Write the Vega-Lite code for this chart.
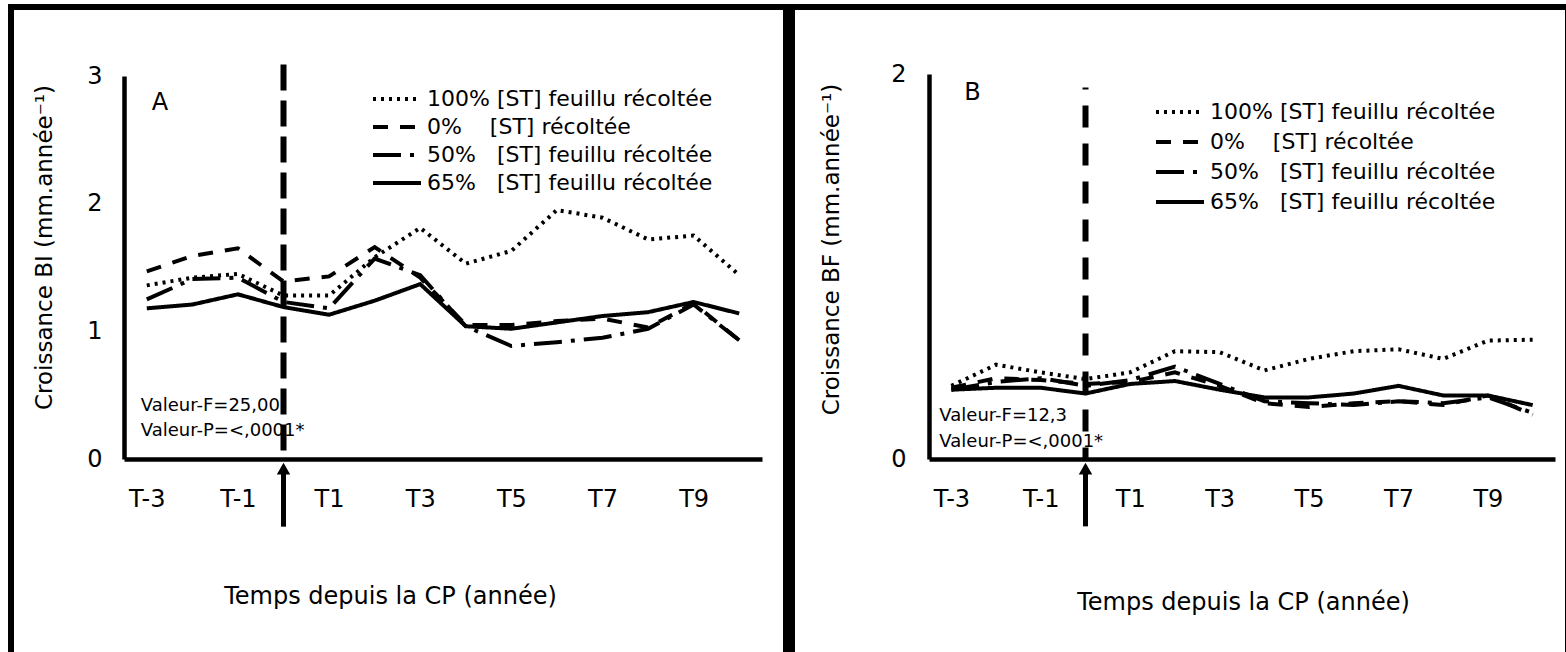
{
  "$schema": "https://vega.github.io/schema/vega-lite/v6.json",
  "padding": {"left": 8, "top": 4, "right": 0, "bottom": 0},
  "background": "white",
  "datasets": {
    "A": [
      {"t":"T-3","s":"100% [ST] feuillu récoltée","v":1.36},{"t":"T-2","s":"100% [ST] feuillu récoltée","v":1.42},{"t":"T-1","s":"100% [ST] feuillu récoltée","v":1.45},{"t":"T0","s":"100% [ST] feuillu récoltée","v":1.28},{"t":"T1","s":"100% [ST] feuillu récoltée","v":1.28},{"t":"T2","s":"100% [ST] feuillu récoltée","v":1.58},{"t":"T3","s":"100% [ST] feuillu récoltée","v":1.81},{"t":"T4","s":"100% [ST] feuillu récoltée","v":1.53},{"t":"T5","s":"100% [ST] feuillu récoltée","v":1.63},{"t":"T6","s":"100% [ST] feuillu récoltée","v":1.95},{"t":"T7","s":"100% [ST] feuillu récoltée","v":1.89},{"t":"T8","s":"100% [ST] feuillu récoltée","v":1.72},{"t":"T9","s":"100% [ST] feuillu récoltée","v":1.75},{"t":"T10","s":"100% [ST] feuillu récoltée","v":1.44},
      {"t":"T-3","s":"0% [ST] récoltée","v":1.47},{"t":"T-2","s":"0% [ST] récoltée","v":1.59},{"t":"T-1","s":"0% [ST] récoltée","v":1.65},{"t":"T0","s":"0% [ST] récoltée","v":1.39},{"t":"T1","s":"0% [ST] récoltée","v":1.43},{"t":"T2","s":"0% [ST] récoltée","v":1.66},{"t":"T3","s":"0% [ST] récoltée","v":1.42},{"t":"T4","s":"0% [ST] récoltée","v":1.05},{"t":"T5","s":"0% [ST] récoltée","v":1.05},{"t":"T6","s":"0% [ST] récoltée","v":1.08},{"t":"T7","s":"0% [ST] récoltée","v":1.1},{"t":"T8","s":"0% [ST] récoltée","v":1.03},{"t":"T9","s":"0% [ST] récoltée","v":1.22},{"t":"T10","s":"0% [ST] récoltée","v":0.93},
      {"t":"T-3","s":"50% [ST] feuillu récoltée","v":1.25},{"t":"T-2","s":"50% [ST] feuillu récoltée","v":1.41},{"t":"T-1","s":"50% [ST] feuillu récoltée","v":1.42},{"t":"T0","s":"50% [ST] feuillu récoltée","v":1.23},{"t":"T1","s":"50% [ST] feuillu récoltée","v":1.18},{"t":"T2","s":"50% [ST] feuillu récoltée","v":1.57},{"t":"T3","s":"50% [ST] feuillu récoltée","v":1.44},{"t":"T4","s":"50% [ST] feuillu récoltée","v":1.04},{"t":"T5","s":"50% [ST] feuillu récoltée","v":0.885},{"t":"T6","s":"50% [ST] feuillu récoltée","v":0.915},{"t":"T7","s":"50% [ST] feuillu récoltée","v":0.95},{"t":"T8","s":"50% [ST] feuillu récoltée","v":1.02},{"t":"T9","s":"50% [ST] feuillu récoltée","v":1.21},{"t":"T10","s":"50% [ST] feuillu récoltée","v":0.93},
      {"t":"T-3","s":"65% [ST] feuillu récoltée","v":1.18},{"t":"T-2","s":"65% [ST] feuillu récoltée","v":1.21},{"t":"T-1","s":"65% [ST] feuillu récoltée","v":1.29},{"t":"T0","s":"65% [ST] feuillu récoltée","v":1.19},{"t":"T1","s":"65% [ST] feuillu récoltée","v":1.13},{"t":"T2","s":"65% [ST] feuillu récoltée","v":1.24},{"t":"T3","s":"65% [ST] feuillu récoltée","v":1.37},{"t":"T4","s":"65% [ST] feuillu récoltée","v":1.04},{"t":"T5","s":"65% [ST] feuillu récoltée","v":1.02},{"t":"T6","s":"65% [ST] feuillu récoltée","v":1.07},{"t":"T7","s":"65% [ST] feuillu récoltée","v":1.12},{"t":"T8","s":"65% [ST] feuillu récoltée","v":1.15},{"t":"T9","s":"65% [ST] feuillu récoltée","v":1.23},{"t":"T10","s":"65% [ST] feuillu récoltée","v":1.14}
    ],
    "B": [
      {"t":"T-3","s":"100% [ST] feuillu récoltée","v":0.38},{"t":"T-2","s":"100% [ST] feuillu récoltée","v":0.49},{"t":"T-1","s":"100% [ST] feuillu récoltée","v":0.45},{"t":"T0","s":"100% [ST] feuillu récoltée","v":0.415},{"t":"T1","s":"100% [ST] feuillu récoltée","v":0.45},{"t":"T2","s":"100% [ST] feuillu récoltée","v":0.56},{"t":"T3","s":"100% [ST] feuillu récoltée","v":0.555},{"t":"T4","s":"100% [ST] feuillu récoltée","v":0.46},{"t":"T5","s":"100% [ST] feuillu récoltée","v":0.52},{"t":"T6","s":"100% [ST] feuillu récoltée","v":0.56},{"t":"T7","s":"100% [ST] feuillu récoltée","v":0.57},{"t":"T8","s":"100% [ST] feuillu récoltée","v":0.52},{"t":"T9","s":"100% [ST] feuillu récoltée","v":0.615},{"t":"T10","s":"100% [ST] feuillu récoltée","v":0.62},
      {"t":"T-3","s":"0% [ST] récoltée","v":0.37},{"t":"T-2","s":"0% [ST] récoltée","v":0.42},{"t":"T-1","s":"0% [ST] récoltée","v":0.41},{"t":"T0","s":"0% [ST] récoltée","v":0.39},{"t":"T1","s":"0% [ST] récoltée","v":0.4},{"t":"T2","s":"0% [ST] récoltée","v":0.45},{"t":"T3","s":"0% [ST] récoltée","v":0.38},{"t":"T4","s":"0% [ST] récoltée","v":0.29},{"t":"T5","s":"0% [ST] récoltée","v":0.27},{"t":"T6","s":"0% [ST] récoltée","v":0.29},{"t":"T7","s":"0% [ST] récoltée","v":0.3},{"t":"T8","s":"0% [ST] récoltée","v":0.28},{"t":"T9","s":"0% [ST] récoltée","v":0.33},{"t":"T10","s":"0% [ST] récoltée","v":0.23},
      {"t":"T-3","s":"50% [ST] feuillu récoltée","v":0.36},{"t":"T-2","s":"50% [ST] feuillu récoltée","v":0.4},{"t":"T-1","s":"50% [ST] feuillu récoltée","v":0.42},{"t":"T0","s":"50% [ST] feuillu récoltée","v":0.38},{"t":"T1","s":"50% [ST] feuillu récoltée","v":0.41},{"t":"T2","s":"50% [ST] feuillu récoltée","v":0.48},{"t":"T3","s":"50% [ST] feuillu récoltée","v":0.39},{"t":"T4","s":"50% [ST] feuillu récoltée","v":0.3},{"t":"T5","s":"50% [ST] feuillu récoltée","v":0.29},{"t":"T6","s":"50% [ST] feuillu récoltée","v":0.28},{"t":"T7","s":"50% [ST] feuillu récoltée","v":0.3},{"t":"T8","s":"50% [ST] feuillu récoltée","v":0.29},{"t":"T9","s":"50% [ST] feuillu récoltée","v":0.32},{"t":"T10","s":"50% [ST] feuillu récoltée","v":0.24},
      {"t":"T-3","s":"65% [ST] feuillu récoltée","v":0.36},{"t":"T-2","s":"65% [ST] feuillu récoltée","v":0.37},{"t":"T-1","s":"65% [ST] feuillu récoltée","v":0.37},{"t":"T0","s":"65% [ST] feuillu récoltée","v":0.34},{"t":"T1","s":"65% [ST] feuillu récoltée","v":0.39},{"t":"T2","s":"65% [ST] feuillu récoltée","v":0.405},{"t":"T3","s":"65% [ST] feuillu récoltée","v":0.36},{"t":"T4","s":"65% [ST] feuillu récoltée","v":0.32},{"t":"T5","s":"65% [ST] feuillu récoltée","v":0.32},{"t":"T6","s":"65% [ST] feuillu récoltée","v":0.34},{"t":"T7","s":"65% [ST] feuillu récoltée","v":0.38},{"t":"T8","s":"65% [ST] feuillu récoltée","v":0.33},{"t":"T9","s":"65% [ST] feuillu récoltée","v":0.33},{"t":"T10","s":"65% [ST] feuillu récoltée","v":0.28}
    ]
  },
  "hconcat": [
    {
      "width": 775,
      "height": 648,
      "encoding": {
        "x": {"field": "t", "type": "ordinal",
          "scale": {"type": "point", "domain": ["T-3","T-2","T-1","T0","T1","T2","T3","T4","T5","T6","T7","T8","T9","T10"], "range": [113, 751], "padding": 0.5},
          "axis": {"values": ["T-3","T-1","T1","T3","T5","T7","T9"], "offset": -196, "ticks": false, "tickSize": 0, "labelPadding": 28, "labelAngle": 0, "domainColor": "black", "domainWidth": 4.5, "grid": false, "labelFont": "DejaVu Sans", "labelFontSize": 24, "labelColor": "black",
            "title": "Temps depuis la CP (année)", "titleX": 379, "titleY": 137, "titleBaseline": "middle", "titleAlign": "center", "titleFont": "DejaVu Sans", "titleFontSize": 24, "titleFontWeight": "normal", "titleColor": "black"}},
        "y": {"field": "v", "type": "quantitative",
          "scale": {"domain": [0, 3], "range": [452, 69], "nice": false, "zero": false},
          "axis": {"values": [0, 1, 2, 3], "format": "d", "offset": -113, "ticks": false, "tickSize": 0, "labelPadding": 22, "domainColor": "black", "domainWidth": 4.5, "grid": false, "labelFont": "DejaVu Sans", "labelFontSize": 24, "labelColor": "black",
            "title": "Croissance BI (mm.année⁻¹)", "titleX": -80, "titleY": 240, "titleBaseline": "middle", "titleAlign": "center", "titleFont": "DejaVu Sans", "titleFontSize": 23, "titleFontWeight": "normal", "titleColor": "black"}}
      },
      "layer": [
        {
          "data": {"name": "A"},
          "mark": {"type": "line", "color": "black", "strokeWidth": 4, "strokeCap": "butt"},
          "encoding": {
            "strokeDash": {"field": "s", "type": "nominal",
              "scale": {"domain": ["100% [ST] feuillu récoltée", "0% [ST] récoltée", "50% [ST] feuillu récoltée", "65% [ST] feuillu récoltée"], "range": [[3, 5], [15, 12], [28, 9, 4, 9], [1, 0]]},
              "legend": {"title": null, "orient": "none", "legendX": 360, "legendY": 78, "symbolType": "stroke", "symbolSize": 2304, "symbolStrokeWidth": 4, "symbolStrokeColor": "black", "labelFont": "DejaVu Sans", "labelFontSize": 22, "labelColor": "black", "clipHeight": 28, "rowPadding": 0, "labelOffset": 4, "padding": 0, "labelLimit": 0,
                "labelExpr": "datum.label == '0% [ST] récoltée' ? '0%\u00a0\u00a0\u00a0 [ST] récoltée' : (datum.label == '100% [ST] feuillu récoltée' ? datum.label : replace(datum.label, '% ', '%\u00a0\u00a0 '))"}},
            "order": {"value": null}
          }
        },
        {
          "data": {"values": [{"t": "T0", "v": 3.09, "v2": 0}]},
          "mark": {"type": "rule", "color": "black", "strokeWidth": 6, "strokeDash": [26, 10]},
          "encoding": {"y2": {"field": "v2"}}
        },
        {
          "data": {"values": [{"t": "T0", "v": -0.08, "v2": -0.53}]},
          "mark": {"type": "rule", "color": "black", "strokeWidth": 5},
          "encoding": {"y2": {"field": "v2"}}
        },
        {
          "data": {"values": [{"t": "T0", "v": -0.075}]},
          "mark": {"type": "point", "shape": "triangle-up", "filled": true, "color": "black", "opacity": 1, "size": 180},
          "encoding": {}
        },
        {
          "data": {"values": [{"t": "T-3", "v": 2.79, "label": "A"}]},
          "mark": {"type": "text", "align": "left", "baseline": "middle", "dx": 5, "font": "DejaVu Sans", "fontSize": 24, "color": "black"},
          "encoding": {"text": {"field": "label"}}
        },
        {
          "data": {"values": [{"t": "T-3", "v": 0.415, "label": "Valeur-F=25,00"}, {"t": "T-3", "v": 0.22, "label": "Valeur-P=<,0001*"}]},
          "mark": {"type": "text", "align": "left", "baseline": "middle", "dx": -6, "font": "DejaVu Sans", "fontSize": 18, "color": "black"},
          "encoding": {"text": {"field": "label"}}
        }
      ]
    },
    {
      "width": 776,
      "height": 648,
      "encoding": {
        "x": {"field": "t", "type": "ordinal",
          "scale": {"type": "point", "domain": ["T-3","T-2","T-1","T0","T1","T2","T3","T4","T5","T6","T7","T8","T9","T10"], "range": [137, 763], "padding": 0.5},
          "axis": {"values": ["T-3","T-1","T1","T3","T5","T7","T9"], "offset": -196, "ticks": false, "tickSize": 0, "labelPadding": 28, "labelAngle": 0, "domainColor": "black", "domainWidth": 4.5, "grid": false, "labelFont": "DejaVu Sans", "labelFontSize": 24, "labelColor": "black",
            "title": "Temps depuis la CP (année)", "titleX": 451, "titleY": 143, "titleBaseline": "middle", "titleAlign": "center", "titleFont": "DejaVu Sans", "titleFontSize": 24, "titleFontWeight": "normal", "titleColor": "black"}},
        "y": {"field": "v", "type": "quantitative",
          "scale": {"domain": [0, 2], "range": [452, 67], "nice": false, "zero": false},
          "axis": {"values": [0, 1, 2], "format": "d", "offset": -137, "ticks": false, "tickSize": 0, "labelPadding": 23, "domainColor": "black", "domainWidth": 4.5, "grid": false, "labelFont": "DejaVu Sans", "labelFontSize": 24, "labelColor": "black",
            "title": "Croissance BF (mm.année⁻¹)", "titleX": -98, "titleY": 242, "titleBaseline": "middle", "titleAlign": "center", "titleFont": "DejaVu Sans", "titleFontSize": 23, "titleFontWeight": "normal", "titleColor": "black"}}
      },
      "layer": [
        {
          "data": {"name": "B"},
          "mark": {"type": "line", "color": "black", "strokeWidth": 4, "strokeCap": "butt"},
          "encoding": {
            "strokeDash": {"field": "s", "type": "nominal",
              "scale": {"domain": ["100% [ST] feuillu récoltée", "0% [ST] récoltée", "50% [ST] feuillu récoltée", "65% [ST] feuillu récoltée"], "range": [[3, 5], [15, 12], [28, 9, 4, 9], [1, 0]]},
              "legend": {"title": null, "orient": "none", "legendX": 362, "legendY": 90, "symbolType": "stroke", "symbolSize": 2304, "symbolStrokeWidth": 4, "symbolStrokeColor": "black", "labelFont": "DejaVu Sans", "labelFontSize": 22, "labelColor": "black", "clipHeight": 30, "rowPadding": 0, "labelOffset": 4, "padding": 0, "labelLimit": 0,
                "labelExpr": "datum.label == '0% [ST] récoltée' ? '0%\u00a0\u00a0\u00a0 [ST] récoltée' : (datum.label == '100% [ST] feuillu récoltée' ? datum.label : replace(datum.label, '% ', '%\u00a0\u00a0 '))"}},
            "order": {"value": null}
          }
        },
        {
          "data": {"values": [{"t": "T0", "v": 1.93, "v2": 0}]},
          "mark": {"type": "rule", "color": "black", "strokeWidth": 6, "strokeDash": [22, 16], "strokeDashOffset": 20},
          "encoding": {"y2": {"field": "v2"}}
        },
        {
          "data": {"values": [{"t": "T0", "v": -0.05, "v2": -0.35}]},
          "mark": {"type": "rule", "color": "black", "strokeWidth": 5},
          "encoding": {"y2": {"field": "v2"}}
        },
        {
          "data": {"values": [{"t": "T0", "v": -0.05}]},
          "mark": {"type": "point", "shape": "triangle-up", "filled": true, "color": "black", "opacity": 1, "size": 180},
          "encoding": {}
        },
        {
          "data": {"values": [{"t": "T-3", "v": 1.9, "label": "B"}]},
          "mark": {"type": "text", "align": "left", "baseline": "middle", "dx": 13, "font": "DejaVu Sans", "fontSize": 24, "color": "black"},
          "encoding": {"text": {"field": "label"}}
        },
        {
          "data": {"values": [{"t": "T-3", "v": 0.223, "label": "Valeur-F=12,3"}, {"t": "T-3", "v": 0.09, "label": "Valeur-P=<,0001*"}]},
          "mark": {"type": "text", "align": "left", "baseline": "middle", "dx": -12, "font": "DejaVu Sans", "fontSize": 18, "color": "black"},
          "encoding": {"text": {"field": "label"}}
        }
      ]
    }
  ],
  "spacing": 6,
  "bounds": "flush",
  "resolve": {
    "scale": {"x": "independent", "y": "independent", "strokeDash": "independent"},
    "axis": {"x": "independent", "y": "independent"},
    "legend": {"strokeDash": "independent"}
  },
  "config": {
    "view": {"stroke": "black", "strokeWidth": 6, "fill": "white"},
    "font": "DejaVu Sans"
  }
}
